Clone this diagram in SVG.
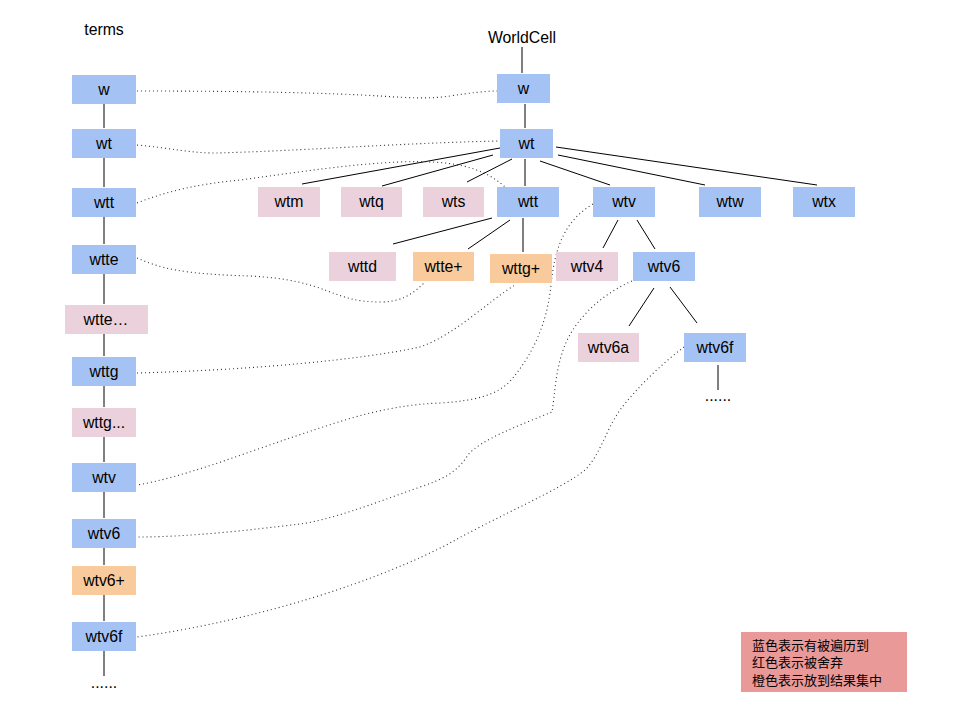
<svg xmlns="http://www.w3.org/2000/svg" width="960" height="720" viewBox="0 0 960 720">
<style>
  .b { fill: #a4c2f4; }
  .p { fill: #ead1dc; }
  .o { fill: #f9cb9c; }
  text { font-family: "Liberation Sans", Arial, sans-serif; font-size: 15.8px; fill: #000; text-anchor: middle; }
  .leg { font-family: "Liberation Sans", "Noto Sans CJK SC", sans-serif; font-size: 13px; text-anchor: start; }
  .s { stroke: #000; stroke-width: 1; fill: none; }
  .d { stroke: #333; stroke-width: 1.1; fill: none; stroke-dasharray: 1 3; }
</style>
<rect width="960" height="720" fill="#fff"/>

<g id="connectors">
  <!-- left column -->
  <path class="s" d="M104,104V128 M104,158V187 M104,217V244 M104,274V304 M104,334V356 M104,386V407 M104,437V462 M104,492V518 M104,548V565 M104,595V621 M104,651V676"/>
  <!-- tree -->
  <path class="s" d="M522,47V73 M525,104V128"/>
  <path class="s" d="M500,148L302,184 M493,155L382,186 M512,159L467,182 M525,159V186 M540,161L610,185 M558,155L705,185 M556,147L817,185"/>
  <path class="s" d="M492,218L393,244 M510,220L468,249 M523,218V252"/>
  <path class="s" d="M618,220L603,248 M637,220L655,249"/>
  <path class="s" d="M654,288L629,326 M670,287L697,323 M718,365V390"/>
  <!-- dotted mapping -->
  <path class="d" d="M137,91 C250,91 330,93 380,96 C410,98 430,99 450,96 C470,93 485,91 497,91"/>
  <path class="d" d="M137,145 C170,148 190,153 215,153 C300,151 400,143 500,141"/>
  <path class="d" d="M137,203 C170,190 200,184 240,180 C300,172 350,164 400,162 C450,160 482,166 505,187"/>
  <path class="d" d="M137,258 C160,268 180,274 250,276 C330,280 330,302 380,302 C400,302 412,295 424,283"/>
  <path class="d" d="M137,373 C250,370 360,360 420,347 C455,335 490,300 515,285"/>
  <path class="d" d="M593,204 C566,220 555,245 551,285 C547,325 532,355 512,379 C498,396 472,401 440,403 C380,405 330,425 290,438 C240,455 180,478 137,485"/>
  <path class="d" d="M632,281 C600,295 575,320 565,345 C555,370 555,395 552,412 C520,425 480,440 468,455 C455,475 440,480 420,487 C370,505 330,520 300,524 C250,530 190,537 137,537"/>
  <path class="d" d="M684,347 C660,365 635,390 620,410 C605,432 600,455 585,470 C560,490 500,515 450,543 C380,580 260,620 137,637"/>
</g>

<text x="104" y="35">terms</text>
<text x="522" y="43">WorldCell</text>

<!-- left column -->
<g id="l_w"><rect class="b" x="72" y="75" width="64" height="29"/><text x="104" y="95">w</text></g>
<g id="l_wt"><rect class="b" x="72" y="129" width="64" height="29"/><text x="104" y="149">wt</text></g>
<g id="l_wtt"><rect class="b" x="72" y="188" width="64" height="29"/><text x="104" y="208">wtt</text></g>
<g id="l_wtte"><rect class="b" x="72" y="245" width="64" height="29"/><text x="104" y="265">wtte</text></g>
<g id="l_wtte_dots"><rect class="p" x="65" y="305" width="83" height="29"/><text x="106" y="325">wtte…</text></g>
<g id="l_wttg"><rect class="b" x="72" y="357" width="64" height="29"/><text x="104" y="377">wttg</text></g>
<g id="l_wttg_dots"><rect class="p" x="72" y="408" width="64" height="29"/><text x="104" y="428">wttg...</text></g>
<g id="l_wtv"><rect class="b" x="72" y="463" width="64" height="29"/><text x="104" y="483">wtv</text></g>
<g id="l_wtv6"><rect class="b" x="72" y="519" width="64" height="29"/><text x="104" y="539">wtv6</text></g>
<g id="l_wtv6plus"><rect class="o" x="72" y="566" width="64" height="29"/><text x="104" y="586">wtv6+</text></g>
<g id="l_wtv6f"><rect class="b" x="72" y="622" width="64" height="29"/><text x="104" y="642">wtv6f</text></g>
<g id="l_more"><text x="104" y="688">......</text></g>

<!-- tree -->
<g id="t_w"><rect class="b" x="497" y="74" width="53" height="29"/><text x="523.5" y="94">w</text></g>
<g id="t_wt"><rect class="b" x="500" y="129" width="53" height="29"/><text x="526.5" y="149">wt</text></g>
<g id="t_wtm"><rect class="p" x="258" y="187" width="62" height="30"/><text x="289" y="207">wtm</text></g>
<g id="t_wtq"><rect class="p" x="341" y="187" width="61" height="30"/><text x="371.5" y="207">wtq</text></g>
<g id="t_wts"><rect class="p" x="423" y="187" width="61" height="30"/><text x="453.5" y="207">wts</text></g>
<g id="t_wtt"><rect class="b" x="497" y="187" width="62" height="30"/><text x="528" y="207">wtt</text></g>
<g id="t_wtv"><rect class="b" x="593" y="187" width="62" height="30"/><text x="624" y="207">wtv</text></g>
<g id="t_wtw"><rect class="b" x="699" y="187" width="62" height="30"/><text x="730" y="207">wtw</text></g>
<g id="t_wtx"><rect class="b" x="793" y="187" width="62" height="30"/><text x="824" y="207">wtx</text></g>
<g id="t_wttd"><rect class="p" x="329" y="252" width="67" height="29"/><text x="362.5" y="272">wttd</text></g>
<g id="t_wtteplus"><rect class="o" x="413" y="252" width="61" height="29"/><text x="443.5" y="272">wtte+</text></g>
<g id="t_wttgplus"><rect class="o" x="490" y="254" width="62" height="29"/><text x="521" y="274">wttg+</text></g>
<g id="t_wtv4"><rect class="p" x="556" y="252" width="62" height="29"/><text x="587" y="272">wtv4</text></g>
<g id="t_wtv6"><rect class="b" x="633" y="252" width="62" height="29"/><text x="664" y="272">wtv6</text></g>
<g id="t_wtv6a"><rect class="p" x="578" y="333" width="61" height="29"/><text x="608.5" y="353">wtv6a</text></g>
<g id="t_wtv6f"><rect class="b" x="684" y="333" width="62" height="29"/><text x="715" y="353">wtv6f</text></g>
<g id="t_more"><text x="718" y="401">......</text></g>

<g id="legend">
  <rect x="741" y="632" width="166" height="60" fill="#ea9999"/>
  <text class="leg" x="752" y="650">蓝色表示有被遍历到</text>
  <text class="leg" x="752" y="667">红色表示被舍弃</text>
  <text class="leg" x="752" y="685">橙色表示放到结果集中</text>
</g>
</svg>
